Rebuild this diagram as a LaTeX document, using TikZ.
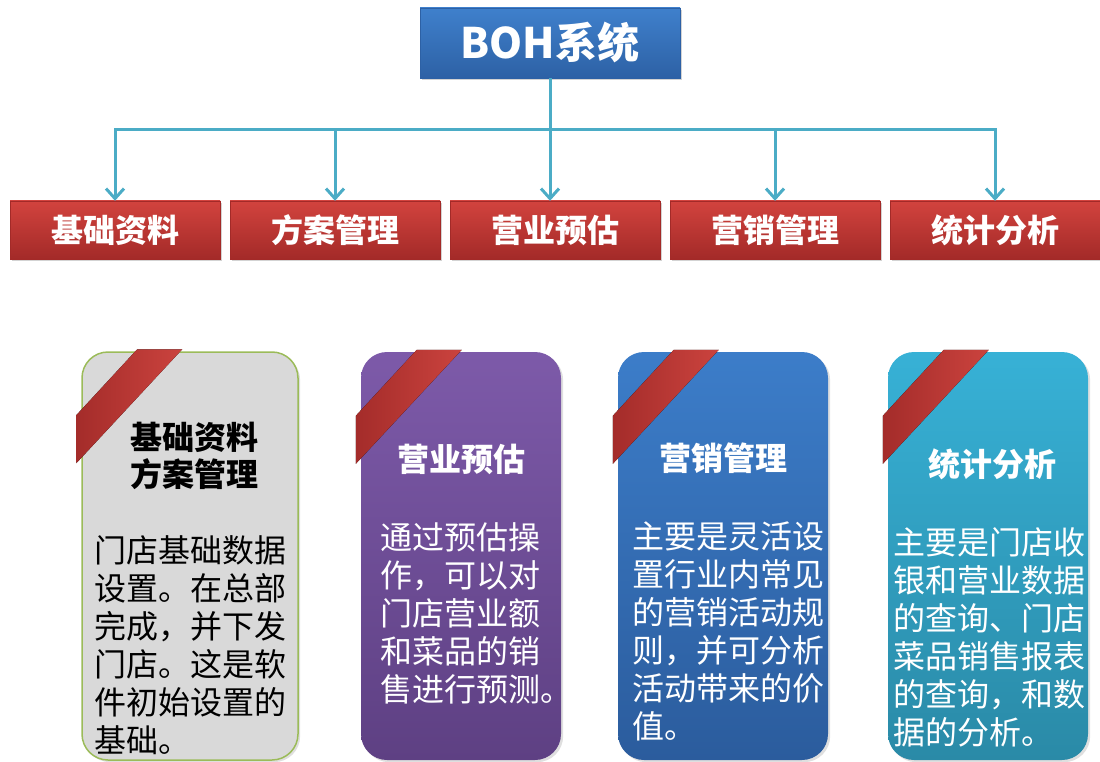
\documentclass[tikz,border=0pt]{standalone}
\usepackage{fontspec}
\newfontfamily\zh{Noto Sans CJK SC}
\usetikzlibrary{positioning,shadows,arrows.meta}

\definecolor{linkblue}{HTML}{4BACC6}
\definecolor{titletop}{HTML}{3F80CC}
\definecolor{titlebot}{HTML}{2D61A5}
\definecolor{modtop}{HTML}{D2433E}
\definecolor{modbot}{HTML}{A32A28}
\definecolor{graycard}{HTML}{D9D9D9}
\definecolor{greenedge}{HTML}{9BBB59}
\definecolor{purpletop}{HTML}{7D5AA9}
\definecolor{purplebot}{HTML}{5E4083}
\definecolor{bluetop}{HTML}{3C7DC9}
\definecolor{bluebot}{HTML}{2B5C9D}
\definecolor{tealtop}{HTML}{37B1D6}
\definecolor{tealbot}{HTML}{2A8AA7}
\definecolor{ribbonlight}{HTML}{CB433E}
\definecolor{ribbondark}{HTML}{A42C2A}

\begin{document}
\begin{tikzpicture}[x=1pt,y=-1pt,
  link/.style={linkblue, line width=3pt},
  linkarrow/.style={link, -{Straight Barb[length=10pt,width=18pt]}},
  titlebox/.style={minimum width=260pt, minimum height=70pt,
    top color=titletop, bottom color=titlebot, draw=titlebot,
    text=white, font=\zh\bfseries\fontsize{42}{42}\selectfont,
    drop shadow={opacity=0.35}},
  modbox/.style={minimum width=210pt, minimum height=58pt,
    top color=modtop, bottom color=modbot, draw=modbot,
    text=white, font=\zh\bfseries\fontsize{32}{32}\selectfont,
    drop shadow={opacity=0.35}},
  card/.style={minimum width=200pt, minimum height=408pt,
    rounded corners=26pt, drop shadow={opacity=0.25}},
  cardhead/.style={align=center, inner sep=0pt,
    font=\zh\bfseries\fontsize{32}{37}\selectfont},
  cardbody/.style={align=left, inner sep=0pt, anchor=north west,
    font=\zh\fontsize{32}{38}\selectfont},
  ribbon/.style={left color=ribbondark, right color=ribbonlight}
]
  \useasboundingbox (0,0) rectangle (1100,762);

  % the system box on top
  \node[titlebox] (top) at (550,43) {BOH系统};

  % the five modules
  \node[modbox] (m1) at (115,230) {基础资料};
  \node[modbox] (m2) at (335,230) {方案管理};
  \node[modbox] (m3) at (555,230) {营业预估};
  \node[modbox] (m4) at (775,230) {营销管理};
  \node[modbox] (m5) at (995,230) {统计分析};

  % connectors from the system box down to the modules
  \coordinate (bus) at (top.south |- 0,130);
  \draw[link] (top.south) -- (bus);
  \draw[linkarrow] (bus) -| (m1.north);
  \draw[linkarrow] (bus) -| (m2.north);
  \draw[linkarrow] (bus) -- (m3.north -| bus);
  \draw[linkarrow] (bus) -| (m4.north);
  \draw[linkarrow] (bus) -| (m5.north);

  % first card: grey with green edge
  \node[card, minimum width=216pt, fill=graycard, draw=greenedge,
    line width=1.5pt] (c1) at (190,556) {};
  \fill[ribbon, shift={(c1.north west)}]
    (-5,64) -- (56,-2) -- (101,-2) -- (-5,112) -- cycle;
  \node[cardhead] (h1) at ([xshift=4pt,yshift=-105pt]c1.north) {基础资料\\方案管理};
  \node[cardbody] (b1) at ([xshift=13pt,yshift=-184pt]c1.north west)
    {门店基础数据\\设置。在总部\\完成，并下发\\门店。这是软\\件初始设置的\\基础。};

  % second card: purple
  \node[card, top color=purpletop, bottom color=purplebot] (c2) at (461,556) {};
  \fill[ribbon, shift={(c2.north west)}]
    (-5,64) -- (56,-2) -- (101,-2) -- (-5,112) -- cycle;
  \node[cardhead, text=white] (h2) at ([yshift=-108pt]c2.north) {营业预估};
  \node[cardbody, text=white] (b2) at ([xshift=19pt,yshift=-171pt]c2.north west)
    {通过预估操\\作，可以对\\门店营业额\\和菜品的销\\售进行预测。};

  % third card: blue
  \node[card, minimum width=210pt, top color=bluetop, bottom color=bluebot]
    (c3) at (723,556) {};
  \fill[ribbon, shift={(c3.north west)}]
    (-5,64) -- (56,-2) -- (101,-2) -- (-5,112) -- cycle;
  \node[cardhead, text=white] (h3) at ([yshift=-106pt]c3.north) {营销管理};
  \node[cardbody, text=white] (b3) at ([xshift=14pt,yshift=-170pt]c3.north west)
    {主要是灵活设\\置行业内常见\\的营销活动规\\则，并可分析\\活动带来的价\\值。};

  % fourth card: teal
  \node[card, top color=tealtop, bottom color=tealbot] (c4) at (988,556) {};
  \fill[ribbon, shift={(c4.north west)}]
    (-5,64) -- (56,-2) -- (101,-2) -- (-5,112) -- cycle;
  \node[cardhead, text=white] (h4) at ([xshift=4pt,yshift=-113pt]c4.north) {统计分析};
  \node[cardbody, text=white] (b4) at ([xshift=5pt,yshift=-176pt]c4.north west)
    {主要是门店收\\银和营业数据\\的查询、门店\\菜品销售报表\\的查询，和数\\据的分析。};
\end{tikzpicture}
\end{document}
